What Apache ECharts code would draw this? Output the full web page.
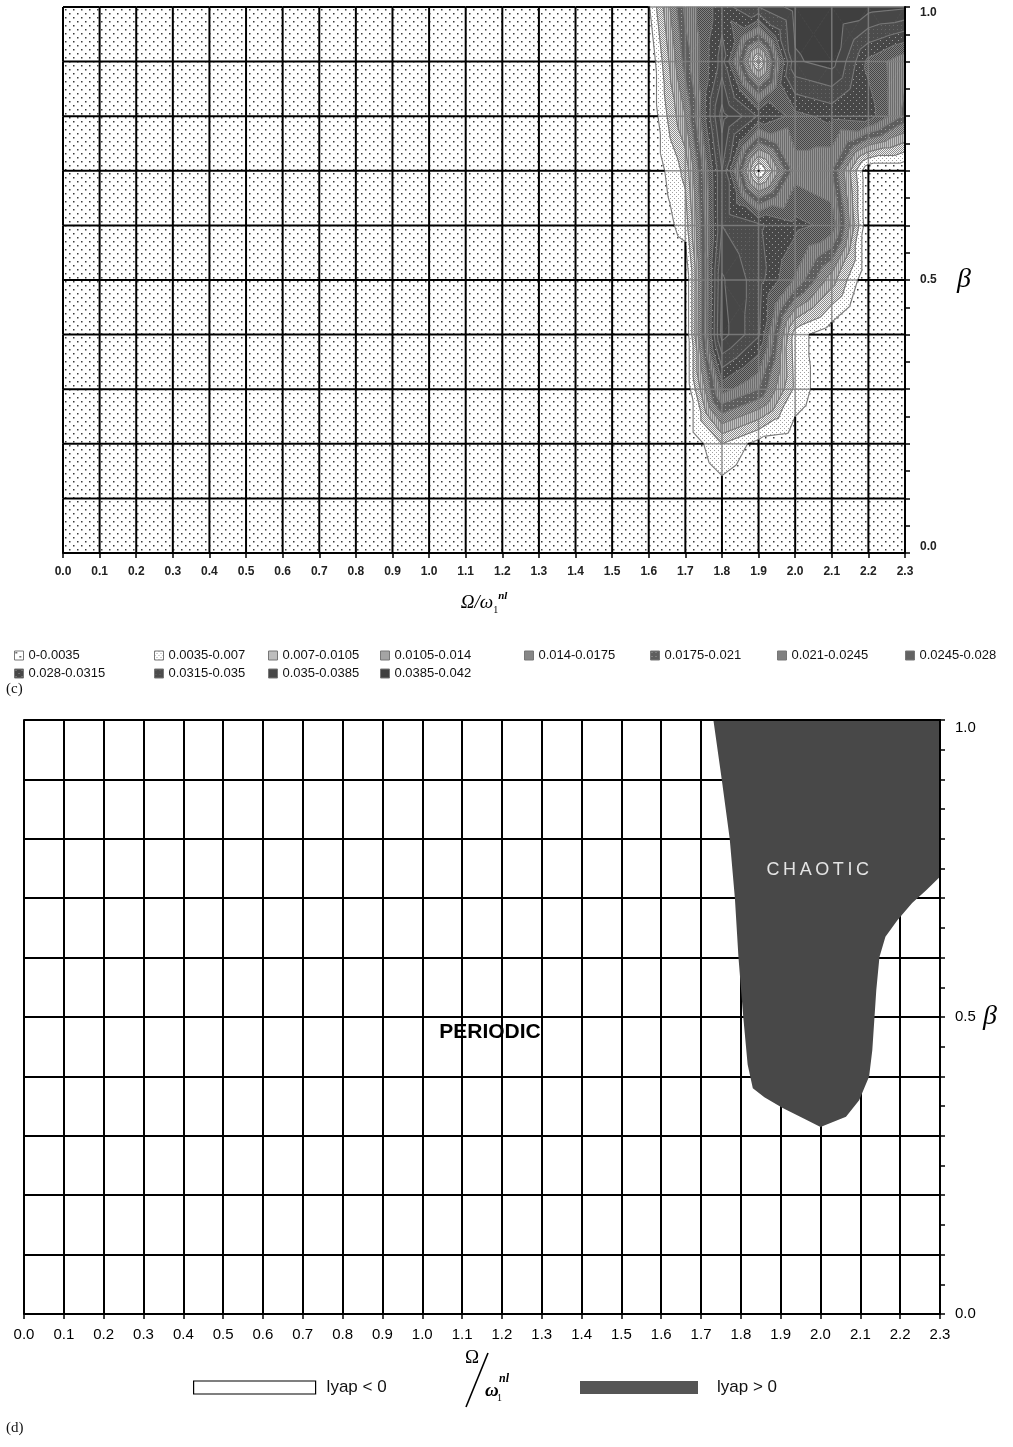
<!DOCTYPE html>
<html>
<head>
<meta charset="utf-8">
<script src="https://cdn.jsdelivr.net/npm/echarts@6/dist/echarts.min.js"></script>
<style>
  html, body { margin: 0; padding: 0; background: #ffffff; }
  #chart { width: 1013px; height: 1447px; }
</style>
</head>
<body>
<div id="chart"></div>
<script>
// Excitation frequency ratio (columns) and damping parameter beta (rows)
const omega = [0.0, 0.1, 0.2, 0.3, 0.4, 0.5, 0.6, 0.7, 0.8, 0.9, 1.0, 1.1,
               1.2, 1.3, 1.4, 1.5, 1.6, 1.7, 1.8, 1.9, 2.0, 2.1, 2.2, 2.3];
const beta = [0.0, 0.1, 0.2, 0.3, 0.4, 0.5, 0.6, 0.7, 0.8, 0.9, 1.0];

// Largest Lyapunov exponent, one row per beta value, one entry per omega value
const lyapBeta00 = [0,0,0,0,0,0,0,0,0,0,0,0,0,0,0, 0,0,0,0,0,0,0,0,0];
const lyapBeta01 = [0,0,0,0,0,0,0,0,0,0,0,0,0,0,0, 0,0,0,0.001,0,0,0,0,0];
const lyapBeta02 = [0,0,0,0,0,0,0,0,0,0,0,0,0,0,0, 0,0,0,0.007,0.002,0.001,0,0,0];
const lyapBeta03 = [0,0,0,0,0,0,0,0,0,0,0,0,0,0,0, 0,0,0,0.026,0.021,0.006,0,0,0];
const lyapBeta04 = [0,0,0,0,0,0,0,0,0,0,0,0,0,0,0, 0,0,0,0.040,0.032,0.005,0.001,0,0];
const lyapBeta05 = [0,0,0,0,0,0,0,0,0,0,0,0,0,0,0, 0,0,0,0.039,0.033,0.024,0.012,0,0];
const lyapBeta06 = [0,0,0,0,0,0,0,0,0,0,0,0,0,0,0, 0,0,0.005,0.035,0.032,0.029,0.027,0,0];
const lyapBeta07 = [0,0,0,0,0,0,0,0,0,0,0,0,0,0,0, 0,0,0.008,0.035,0.003,0.023,0.021,0,0];
const lyapBeta08 = [0,0,0,0,0,0,0,0,0,0,0,0,0,0,0, 0,0,0.014,0.040,0.031,0.027,0.029,0.030,0.020];
const lyapBeta09 = [0,0,0,0,0,0,0,0,0,0,0,0,0,0,0, 0,0,0.019,0.033,0.006,0.038,0.040,0.027,0.022];
const lyapBeta10 = [0,0,0,0,0,0,0,0,0,0,0,0,0,0,0, 0,0.003,0.022,0.030,0.035,0.040,0.041,0.040,0.039];
const lyapGrid = [lyapBeta00, lyapBeta01, lyapBeta02, lyapBeta03, lyapBeta04, lyapBeta05,
                  lyapBeta06, lyapBeta07, lyapBeta08, lyapBeta09, lyapBeta10];

// Contour bands
const bandEdges = [0, 0.0035, 0.007, 0.0105, 0.014, 0.0175, 0.021, 0.0245, 0.028,
                   0.0315, 0.035, 0.0385, 0.042];
const bandNames = ['0-0.0035', '0.0035-0.007', '0.007-0.0105', '0.0105-0.014',
                   '0.014-0.0175', '0.0175-0.021', '0.021-0.0245', '0.0245-0.028',
                   '0.028-0.0315', '0.0315-0.035', '0.035-0.0385', '0.0385-0.042'];

// Boundary of the chaotic (lyap > 0) region, clockwise from the top-left corner
const chaosOmega = [1.731, 1.752, 1.772, 1.785, 1.794, 1.800, 1.806, 1.817, 1.830, 1.859,
                    1.905, 1.964, 2.000, 2.064, 2.097, 2.122, 2.130, 2.140, 2.148, 2.163,
                    2.193, 2.230, 2.266, 2.300, 2.300];
const chaosBeta  = [1.000, 0.900, 0.800, 0.700, 0.600, 0.550, 0.500, 0.420, 0.380, 0.365,
                    0.347, 0.327, 0.315, 0.332, 0.360, 0.400, 0.444, 0.545, 0.601, 0.635,
                    0.663, 0.692, 0.714, 0.736, 1.000];

const betaLabelled = [0.0, 0.5, 1.0];
const periodicLabelAt = [1.17, 0.475];
const chaoticLabelAt = [1.993, 0.747];

// ---------- fill patterns for the contour bands ----------
function makeTile(size, bg, paint) {
  const cv = document.createElement('canvas');
  cv.width = size; cv.height = size;
  const g = cv.getContext('2d');
  g.fillStyle = bg; g.fillRect(0, 0, size, size);
  if (paint) paint(g);
  return { image: cv, repeat: 'repeat' };
}
const dots = (col, pts, s) => g => { g.fillStyle = col; pts.forEach(p => g.fillRect(p[0], p[1], s, s)); };
const vstripe = (col) => g => { g.fillStyle = col; g.fillRect(0, 0, 1, g.canvas.height); };

const bandFills = [
  makeTile(8, '#ffffff', dots('#3a3a3a', [[1, 1], [5, 5]], 1.5)),
  makeTile(4, '#ffffff', dots('#a0a0a0', [[0, 0], [2, 2]], 1)),
  makeTile(2, '#f0f0f0', dots('#8c8c8c', [[0, 0], [1, 1]], 1)),
  makeTile(2, '#c0c0c0', vstripe('#888888')),
  makeTile(2, '#a8a8a8', dots('#666666', [[0, 0], [1, 1]], 1)),
  makeTile(4, '#5e5e5e', dots('#a0a0a0', [[1, 1]], 1)),
  makeTile(2, '#949494', vstripe('#6c6c6c')),
  makeTile(2, '#808080', dots('#464646', [[0, 0], [1, 1]], 1)),
  makeTile(6, '#474747', dots('#9a9a9a', [[1, 1], [4, 4]], 1)),
  makeTile(4, '#4c4c4c', dots('#666666', [[1, 1]], 1)),
  makeTile(2, '#474747', null),
  makeTile(2, '#3f3f3f', null)
];

// ---------- contour geometry helpers ----------
const EPS = 1e-9;
function cellTriangles(i, j) {
  const x0 = omega[i], x1 = omega[i + 1], y0 = beta[j], y1 = beta[j + 1];
  const z00 = lyapGrid[j][i], z10 = lyapGrid[j][i + 1];
  const z01 = lyapGrid[j + 1][i], z11 = lyapGrid[j + 1][i + 1];
  const a = [x0, y0, z00], b = [x1, y0, z10], d = [x1, y1, z11], e = [x0, y1, z01];
  const c = [(x0 + x1) / 2, (y0 + y1) / 2, (z00 + z10 + z01 + z11) / 4];
  return [[a, b, c], [b, d, c], [d, e, c], [e, a, c]];
}
function clipPoly(poly, level, keepAbove) {
  const lev = level + EPS, out = [];
  for (let k = 0; k < poly.length; k++) {
    const a = poly[k], b = poly[(k + 1) % poly.length];
    const ina = keepAbove ? a[2] >= lev : a[2] <= lev;
    const inb = keepAbove ? b[2] >= lev : b[2] <= lev;
    if (ina) out.push(a);
    if (ina !== inb) {
      const t = (lev - a[2]) / (b[2] - a[2]);
      out.push([a[0] + t * (b[0] - a[0]), a[1] + t * (b[1] - a[1]), lev]);
    }
  }
  return out;
}

const cells = [];
for (let j = 0; j < beta.length - 1; j++)
  for (let i = 0; i < omega.length - 1; i++) cells.push([omega[i], beta[j], i, j]);
const nodes = [];
for (let j = 0; j < beta.length; j++)
  for (let i = 0; i < omega.length; i++) nodes.push([omega[i], beta[j], i, j]);

function bandSeries(k) {
  const last = bandNames.length - 1;
  return {
    type: 'custom', name: bandNames[k], xAxisIndex: 0, yAxisIndex: 0, z: 2, silent: true,
    itemStyle: { color: bandFills[k] },
    encode: { x: 0, y: 1 },
    data: cells,
    renderItem: (params, api) => {
      const i = api.value(2), j = api.value(3);
      const children = [];
      for (const tri of cellTriangles(i, j)) {
        let p = tri;
        if (k > 0) p = clipPoly(p, bandEdges[k], true);
        if (p.length >= 3 && k < last) p = clipPoly(p, bandEdges[k + 1], false);
        if (p.length >= 3) {
          children.push({
            type: 'polygon',
            shape: { points: p.map(q => api.coord([q[0], q[1]])) },
            style: { fill: bandFills[k], stroke: bandFills[k], lineWidth: 0.8 }
          });
        }
      }
      return { type: 'group', children };
    }
  };
}

// iso-lines at every band edge
const contourLines = {
  type: 'custom', name: 'contours', xAxisIndex: 0, yAxisIndex: 0, z: 3, silent: true,
  encode: { x: 0, y: 1 }, data: cells,
  renderItem: (params, api) => {
    const i = api.value(2), j = api.value(3);
    const children = [];
    for (const tri of cellTriangles(i, j)) {
      for (let L = 1; L < bandEdges.length - 1; L++) {
        const lev = bandEdges[L] + EPS, pts = [];
        for (let e = 0; e < 3; e++) {
          const a = tri[e], b = tri[(e + 1) % 3];
          if ((a[2] - lev) * (b[2] - lev) < 0) {
            const t = (lev - a[2]) / (b[2] - a[2]);
            pts.push(api.coord([a[0] + t * (b[0] - a[0]), a[1] + t * (b[1] - a[1])]));
          }
        }
        if (pts.length === 2) {
          children.push({ type: 'line',
            shape: { x1: pts[0][0], y1: pts[0][1], x2: pts[1][0], y2: pts[1][1] },
            style: { stroke: '#787878', lineWidth: 1.1 } });
        }
      }
    }
    return { type: 'group', children };
  }
};

// grid lines: black over the quiet region, grey over the coloured region
const gridOverlay = {
  type: 'custom', name: 'grid', xAxisIndex: 0, yAxisIndex: 0, z: 4, silent: true,
  encode: { x: 0, y: 1 }, data: nodes,
  renderItem: (params, api) => {
    const i = api.value(2), j = api.value(3);
    const children = [];
    const lev = bandEdges[1];
    const seg = (a, b) => {
      const pieces = [];
      if ((a[2] - lev) * (b[2] - lev) < 0) {
        const t = (lev - a[2]) / (b[2] - a[2]);
        const m = [a[0] + t * (b[0] - a[0]), a[1] + t * (b[1] - a[1]), lev];
        pieces.push([a, m, a[2] > lev], [m, b, b[2] > lev]);
      } else {
        pieces.push([a, b, Math.max(a[2], b[2]) > lev]);
      }
      pieces.forEach(([p, q, hot]) => {
        const P = api.coord([p[0], p[1]]), Q = api.coord([q[0], q[1]]);
        children.push({ type: 'line', shape: { x1: P[0], y1: P[1], x2: Q[0], y2: Q[1] },
          style: hot ? { stroke: 'rgba(128,128,128,0.85)', lineWidth: 1.5 }
                     : { stroke: '#000000', lineWidth: 2 } });
      });
    };
    const here = [omega[i], beta[j], lyapGrid[j][i]];
    if (i < omega.length - 1) seg(here, [omega[i + 1], beta[j], lyapGrid[j][i + 1]]);
    if (j < beta.length - 1) seg(here, [omega[i], beta[j + 1], lyapGrid[j + 1][i]]);
    return { type: 'group', children };
  }
};

// ---------- lower panel series ----------
const periodicSeries = {
  type: 'custom', name: 'lyap < 0', xAxisIndex: 1, yAxisIndex: 1, z: 3, silent: true,
  itemStyle: { color: '#ffffff' },
  encode: { x: 0, y: 1 }, data: [periodicLabelAt],
  renderItem: (params, api) => {
    const p = api.coord([api.value(0), api.value(1)]);
    return { type: 'text', x: p[0], y: p[1],
      style: { text: 'PERIODIC', fill: '#000', font: 'bold 21px "Liberation Sans", Arial, sans-serif',
               align: 'center', verticalAlign: 'middle' } };
  }
};
const chaoticSeries = {
  type: 'custom', name: 'lyap > 0', xAxisIndex: 1, yAxisIndex: 1, z: 2, silent: true,
  itemStyle: { color: '#555555' },
  encode: { x: 0, y: 1 },
  data: chaosOmega.map((w, k) => [w, chaosBeta[k]]),
  renderItem: (params, api) => {
    if (params.dataIndex !== 0) return null;
    const pts = chaosOmega.map((w, k) => api.coord([w, chaosBeta[k]]));
    const c = api.coord(chaoticLabelAt);
    return { type: 'group', children: [
      { type: 'polygon', shape: { points: pts }, style: { fill: '#484848' } },
      { type: 'text', x: c[0], y: c[1],
        style: { text: 'C\u2009H\u2009A\u2009O\u2009T\u2009I\u2009C', fill: '#e4e4e4',
                 font: '18px "Liberation Sans", Arial, sans-serif',
                 align: 'center', verticalAlign: 'middle' } }
    ] };
  }
};

// ---------- legends ----------
const legendCols = [14, 154, 268, 380, 524, 650, 777, 905];
const bandLegends = legendCols.map((left, c) => ({
  orient: 'vertical', left, top: 649, padding: 0, itemGap: 5,
  itemWidth: 9, itemHeight: 9, icon: 'rect', selectedMode: false,
  data: [bandNames[c], bandNames[c + 8]].filter(Boolean),
  itemStyle: { borderColor: '#777', borderWidth: 1 },
  textStyle: { fontSize: 13, color: '#111', fontFamily: '"Liberation Sans", Arial, sans-serif' }
}));
const lyapLegends = [
  { left: 193, top: 1379, padding: 0, itemWidth: 122, itemHeight: 13, icon: 'rect',
    selectedMode: false, data: ['lyap < 0'],
    itemStyle: { borderColor: '#000', borderWidth: 1.2 },
    textStyle: { fontSize: 17, color: '#111', padding: [0, 0, 0, 6],
                 fontFamily: '"Liberation Sans Narrow", "Liberation Sans", sans-serif' } },
  { left: 580, top: 1379, padding: 0, itemWidth: 118, itemHeight: 13, icon: 'rect',
    selectedMode: false, data: ['lyap > 0'],
    itemStyle: { borderWidth: 0 },
    textStyle: { fontSize: 17, color: '#111', padding: [0, 0, 0, 14],
                 fontFamily: '"Liberation Sans Narrow", "Liberation Sans", sans-serif' } }
];

const betaFormatter = v => betaLabelled.some(b => Math.abs(b - v) < 1e-6) ? v.toFixed(1) : '';
const labelFont = '"Liberation Sans", Arial, sans-serif';
const serif = '"Liberation Serif", "DejaVu Serif", serif';

const option = {
  animation: false,
  textStyle: { fontFamily: labelFont },
  grid: [
    { left: 63, top: 7, width: 842, height: 546 },
    { left: 24, top: 720, width: 916, height: 594 }
  ],
  xAxis: [
    { gridIndex: 0, type: 'value', min: 0, max: 2.3, interval: 0.1, z: 10,
      name: '{a|Ω/ω}{s|1}{p|nl}', nameLocation: 'middle', nameGap: 38,
      nameTextStyle: { rich: {
        a: { fontFamily: serif, fontStyle: 'italic', fontSize: 19, lineHeight: 24, color: '#000' },
        s: { fontFamily: serif, fontSize: 10, verticalAlign: 'bottom', lineHeight: 24, color: '#000' },
        p: { fontFamily: serif, fontStyle: 'italic', fontWeight: 'bold', fontSize: 11, verticalAlign: 'top', lineHeight: 24, color: '#000' } } },
      axisLine: { show: true, onZero: false, lineStyle: { color: '#000', width: 2 } },
      axisTick: { show: true, length: 5, lineStyle: { color: '#000', width: 1.5 } },
      axisLabel: { fontSize: 12, fontWeight: 'bold', color: '#222', margin: 13, formatter: v => v.toFixed(1) },
      splitLine: { show: false } },
    { gridIndex: 1, type: 'value', min: 0, max: 2.3, interval: 0.1,
      axisLine: { show: true, onZero: false, lineStyle: { color: '#000', width: 2 } },
      axisTick: { show: true, length: 5, lineStyle: { color: '#000', width: 1.5 } },
      axisLabel: { fontSize: 15, color: '#000', margin: 13, formatter: v => v.toFixed(1) },
      splitLine: { show: true, lineStyle: { color: '#000', width: 2 } } },
    { gridIndex: 1, type: 'value', position: 'top', min: 0, max: 2.3, interval: 0.1, z: 10,
      axisLine: { show: true, onZero: false, lineStyle: { color: '#000', width: 2 } },
      axisTick: { show: false }, axisLabel: { show: false }, splitLine: { show: false } }
  ],
  yAxis: [
    { gridIndex: 0, type: 'value', position: 'right', min: 0, max: 1, interval: 0.1, z: 10,
      name: 'β', nameLocation: 'middle', nameGap: 52, nameRotate: 0,
      nameTextStyle: { fontFamily: serif, fontStyle: 'italic', fontSize: 28, color: '#000' },
      axisLine: { show: true, onZero: false, lineStyle: { color: '#000', width: 2 } },
      axisTick: { show: true, length: 5, lineStyle: { color: '#000', width: 1.5 } },
      minorTick: { show: true, splitNumber: 2, length: 5, lineStyle: { color: '#000', width: 1.5 } },
      axisLabel: { fontSize: 12, fontWeight: 'bold', color: '#222', margin: 15, formatter: betaFormatter,
                   verticalAlignMaxLabel: 'top', verticalAlignMinLabel: 'bottom' },
      splitLine: { show: false } },
    { gridIndex: 1, type: 'value', position: 'right', min: 0, max: 1, interval: 0.1,
      axisLine: { show: false }, axisTick: { show: false }, axisLabel: { show: false },
      splitLine: { show: true, lineStyle: { color: '#000', width: 2 } } },
    { gridIndex: 1, type: 'value', position: 'right', min: 0, max: 1, interval: 0.1, z: 10,
      name: 'β', nameLocation: 'middle', nameGap: 43, nameRotate: 0,
      nameTextStyle: { fontFamily: serif, fontStyle: 'italic', fontSize: 28, color: '#000' },
      axisLine: { show: true, onZero: false, lineStyle: { color: '#000', width: 2 } },
      axisTick: { show: true, length: 5, lineStyle: { color: '#000', width: 1.5 } },
      minorTick: { show: true, splitNumber: 2, length: 5, lineStyle: { color: '#000', width: 1.5 } },
      axisLabel: { fontSize: 15, color: '#000', margin: 15, formatter: betaFormatter,
                   verticalAlignMaxLabel: 'top' },
      splitLine: { show: false } }
  ],
  legend: bandLegends.concat(lyapLegends),
  graphic: [
    { type: 'text', left: 6, top: 682, style: { text: '(c)', font: '15px ' + serif, fill: '#111' } },
    { type: 'text', left: 6, top: 1421, style: { text: '(d)', font: '15px ' + serif, fill: '#111' } },
    { type: 'text', x: 465, y: 1349, style: { text: 'Ω', font: '19px ' + serif, fill: '#000' } },
    { type: 'line', shape: { x1: 466, y1: 1407, x2: 488, y2: 1353 }, style: { stroke: '#000', lineWidth: 1.6 } },
    { type: 'text', x: 485, y: 1382, style: { text: 'ω', font: 'italic bold 19px ' + serif, fill: '#000' } },
    { type: 'text', x: 497, y: 1393, style: { text: '1', font: '10px ' + serif, fill: '#000' } },
    { type: 'text', x: 499, y: 1373, style: { text: 'nl', font: 'italic bold 12px ' + serif, fill: '#000' } }
  ],
  series: bandNames.map((n, k) => bandSeries(k))
    .concat([contourLines, gridOverlay, chaoticSeries, periodicSeries])
};

const chart = echarts.init(document.getElementById('chart'), null, { renderer: 'canvas' });
chart.setOption(option);
</script>
</body>
</html>
